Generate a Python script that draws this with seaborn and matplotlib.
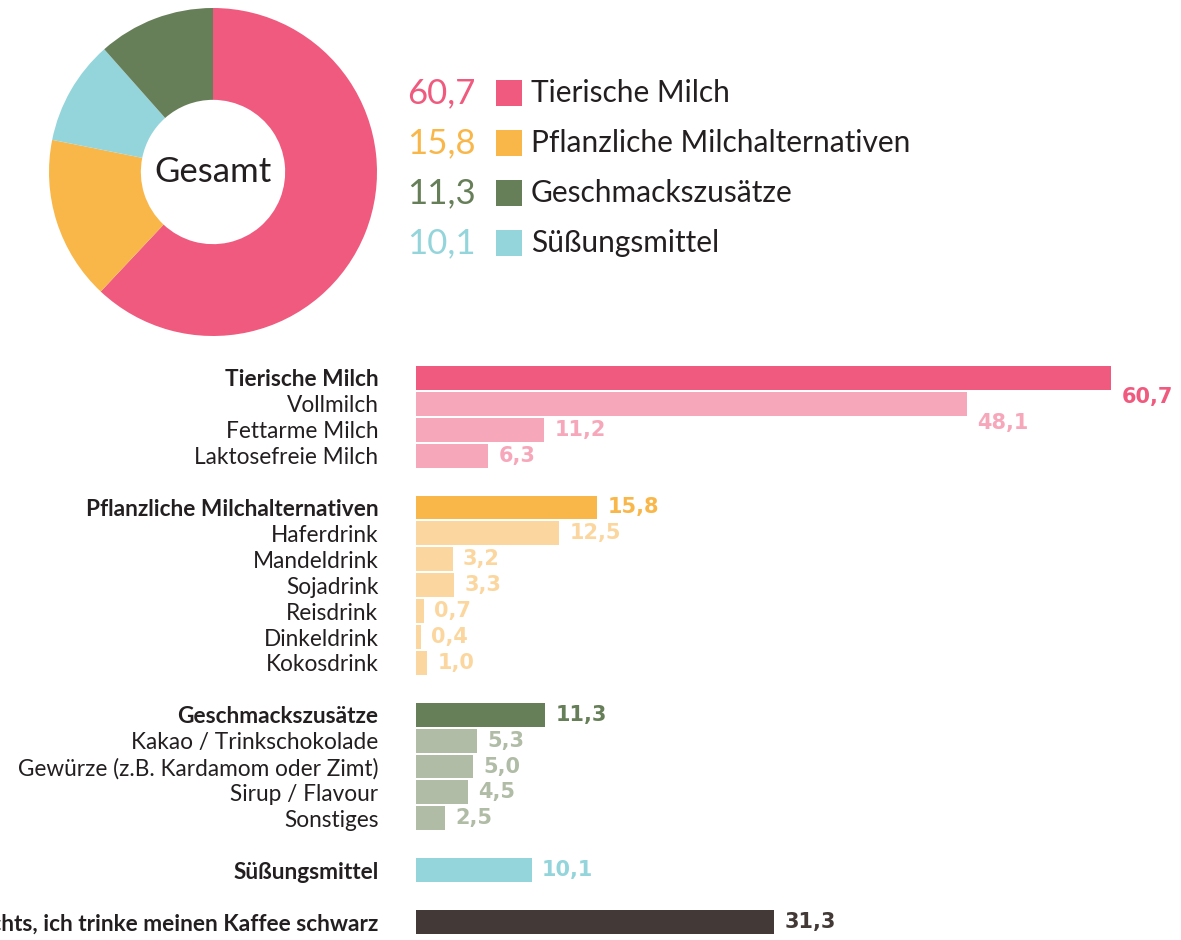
import matplotlib.pyplot as plt
import matplotlib.patches as mpatches
import numpy as np
import pandas as pd
import seaborn as sns

# overview (donut + legend)
groups = ["Tierische Milch", "Pflanzliche Milchalternativen", "Geschmackszusätze", "Süßungsmittel"]
group_values = [60.7, 15.8, 11.3, 10.1]

# detail bars
bar_labels = [
    "Tierische Milch", "Vollmilch", "Fettarme Milch", "Laktosefreie Milch",
    "Pflanzliche Milchalternativen", "Haferdrink", "Mandeldrink", "Sojadrink",
    "Reisdrink", "Dinkeldrink", "Kokosdrink",
    "Geschmackszusätze", "Kakao / Trinkschokolade", "Gewürze (z.B. Kardamom oder Zimt)",
    "Sirup / Flavour", "Sonstiges",
    "Süßungsmittel",
    "Nichts, ich trinke meinen Kaffee schwarz",
]
bar_values = [60.7, 48.1, 11.2, 6.3, 15.8, 12.5, 3.2, 3.3, 0.7, 0.4, 1.0,
              11.3, 5.3, 5.0, 4.5, 2.5, 10.1, 31.3]
is_main = [1, 0, 0, 0, 1, 0, 0, 0, 0, 0, 0, 1, 0, 0, 0, 0, 1, 1]
group_of = [0, 0, 0, 0, 1, 1, 1, 1, 1, 1, 1, 2, 2, 2, 2, 2, 3, 4]

main_colors = ["#F05A7E", "#F9B74A", "#677F58", "#94D5DC", "#433A38"]
light_colors = ["#F7A7BA", "#FBD79F", "#B0BCA6", "#94D5DC", "#433A38"]
text_dark = "#231F20"

W, H = 1181, 940
fig = plt.figure(figsize=(W / 100, H / 100), dpi=100)
sns.set_style("white")
plt.rcParams["font.family"] = ["Lato", "DejaVu Sans"]


def fx(px):
    return px / W


def fy(py):
    return 1 - py / H


# ---- donut ----
cx, cy, r = 213, 172, 164
box = 172
ax_pie = fig.add_axes([fx(cx - box), fy(cy + box), 2 * box / W, 2 * box / H])
# order on the ring (clockwise from top): pink, orange, cyan, green
ring_order = [0, 1, 3, 2]
ax_pie.pie([group_values[i] for i in ring_order],
           colors=[main_colors[i] for i in ring_order],
           startangle=90, counterclock=False, radius=1,
           wedgeprops=dict(width=0.56, linewidth=0))
lim = box / r
ax_pie.set_xlim(-lim, lim)
ax_pie.set_ylim(-lim, lim)
ax_pie.set_aspect("equal")
ax_pie.axis("off")
ax_pie.text(0, 0, "Gesamt", ha="center", va="center", fontsize=25, color=text_dark)

# ---- legend ----
for i, (name, val) in enumerate(zip(groups, group_values)):
    ypx = 93 + 50 * i
    fig.text(fx(407), fy(ypx), f"{val:.1f}".replace(".", ","), ha="left", va="center",
             fontsize=25, color=main_colors[i])
    fig.add_artist(mpatches.Rectangle((fx(496), fy(ypx + 13)), 26 / W, 26 / H,
                                      transform=fig.transFigure,
                                      color=main_colors[i], lw=0))
    fig.text(fx(531), fy(ypx), name, ha="left", va="center", fontsize=21.5,
             color=text_dark)

# ---- bars ----
positions = []
pos = 0
for k, m in enumerate(is_main):
    if m and k > 0:
        pos += 1
    positions.append(pos)
    pos += 1

df = pd.DataFrame({"label": bar_labels, "value": bar_values, "pos": positions})
colors = [main_colors[g] if m else light_colors[g] for g, m in zip(group_of, is_main)]

scale = 11.45  # px per percent
x0 = 416
ax = fig.add_axes([fx(x0), fy(378 + 21.5 * 25.9), (W - x0) / W, 22 * 25.9 / H])
sns.barplot(data=df, x="value", y="pos", hue="label", palette=dict(zip(bar_labels, colors)),
            orient="h", native_scale=True, dodge=False, width=0.92, legend=False,
            saturation=1, linewidth=0, ax=ax)
ax.set_xlim(0, (W - x0) / scale)
ax.set_ylim(21.5, -0.5)
sns.despine(ax=ax, left=True, bottom=True)
ax.set_xticks([])
ax.set_yticks(positions)
ax.set_yticklabels(bar_labels)
ax.tick_params(axis="y", length=0, pad=27)
for tl, m in zip(ax.get_yticklabels(), is_main):
    tl.set_fontsize(16.3)
    tl.set_color(text_dark)
    tl.set_fontweight("bold" if m else "normal")
ax.set_xlabel("")
ax.set_ylabel("")

for k, (v, p) in enumerate(zip(bar_values, positions)):
    dy = 0.75 if k in (0, 1) else 0.0
    ax.text(v + 0.9, p + dy, f"{v:.1f}".replace(".", ","), ha="left", va="center",
            fontsize=15, fontweight="bold", color=colors[k], family="DejaVu Sans")

fig.savefig("out.png", dpi=100)
